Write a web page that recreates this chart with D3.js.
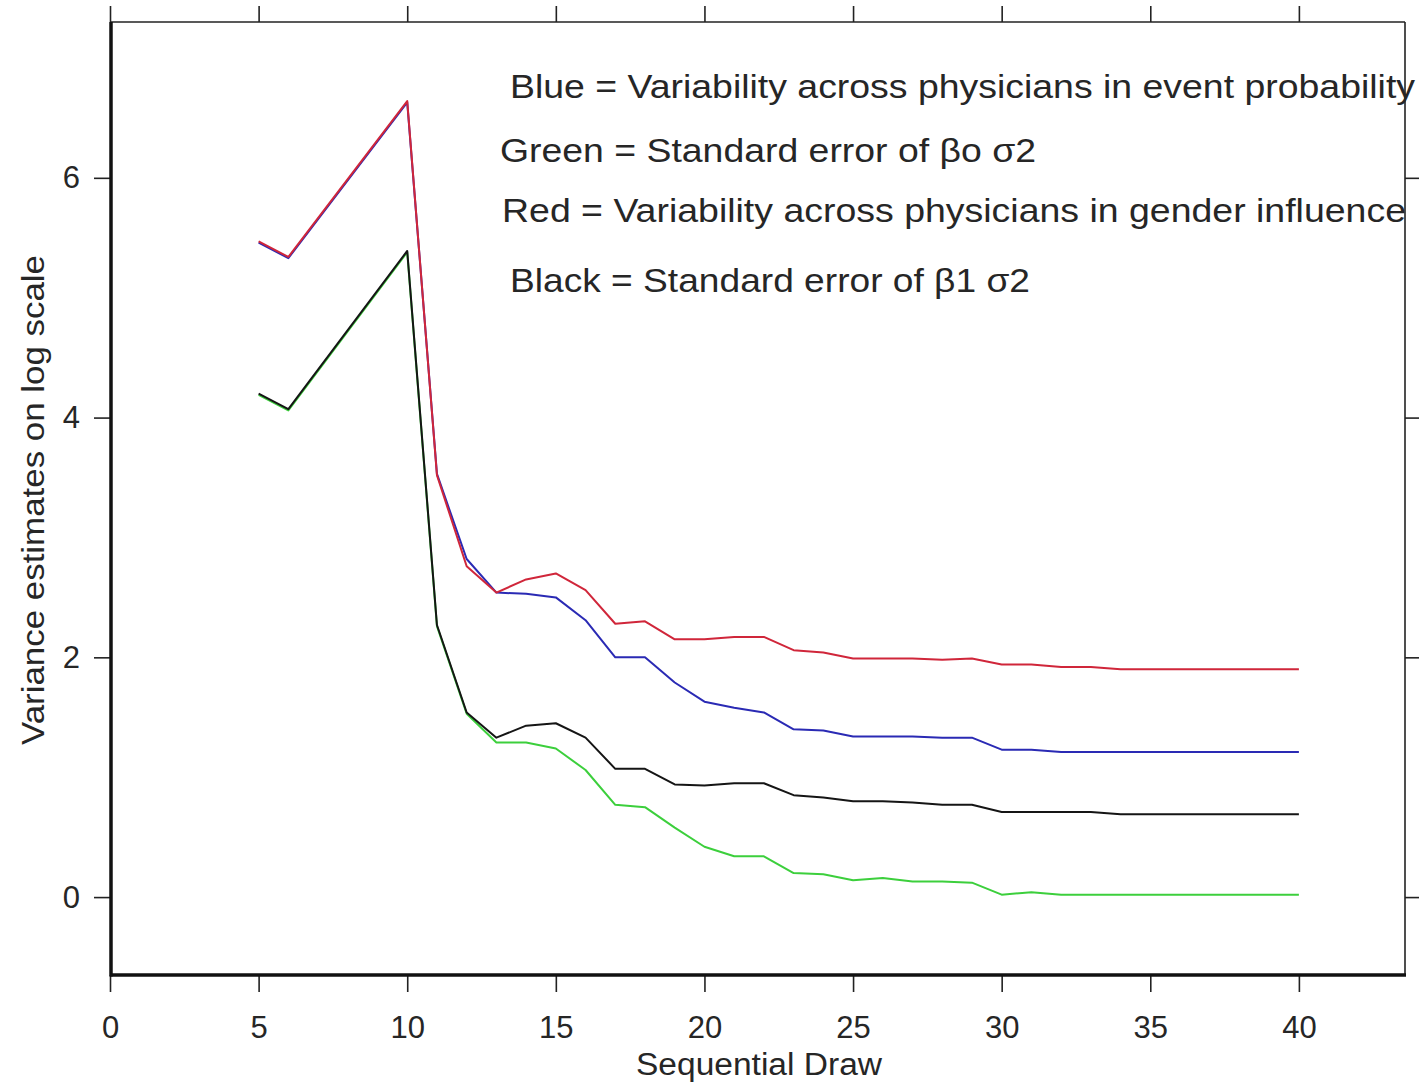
<!DOCTYPE html>
<html>
<head>
<meta charset="utf-8">
<script src="https://cdn.jsdelivr.net/npm/d3@7"></script>
<style>
  html, body { margin: 0; padding: 0; background: #fff; }
  svg { display: block; }
  text { font-family: "Liberation Sans", Arial, sans-serif; fill: #262626; }
</style>
</head>
<body>
<svg id="chart" width="1423" height="1087"></svg>
<script>
// ---- data ----
const draws = [5, 6, 10, 11, 12, 13, 14, 15, 16, 17, 18, 19, 20, 21, 22, 23, 24, 25, 26, 27, 28, 29, 30, 31, 32, 33, 34, 35, 36, 37, 38, 39, 40];
const blueValues  = [5.46, 5.33, 6.63, 3.53, 2.82, 2.54, 2.53, 2.50, 2.31, 2.00, 2.00, 1.79, 1.63, 1.58, 1.54, 1.40, 1.39, 1.34, 1.34, 1.34, 1.33, 1.33, 1.23, 1.23, 1.21, 1.21, 1.21, 1.21, 1.21, 1.21, 1.21, 1.21, 1.21];
const redValues   = [5.47, 5.34, 6.64, 3.52, 2.76, 2.54, 2.65, 2.70, 2.56, 2.28, 2.30, 2.15, 2.15, 2.17, 2.17, 2.06, 2.04, 1.99, 1.99, 1.99, 1.98, 1.99, 1.94, 1.94, 1.92, 1.92, 1.90, 1.90, 1.90, 1.90, 1.90, 1.90, 1.90];
const greenValues = [4.19, 4.06, 5.38, 2.26, 1.53, 1.29, 1.29, 1.24, 1.06, 0.77, 0.75, 0.58, 0.42, 0.34, 0.34, 0.20, 0.19, 0.14, 0.16, 0.13, 0.13, 0.12, 0.02, 0.04, 0.02, 0.02, 0.02, 0.02, 0.02, 0.02, 0.02, 0.02, 0.02];
const blackValues = [4.20, 4.07, 5.39, 2.27, 1.54, 1.33, 1.43, 1.45, 1.33, 1.07, 1.07, 0.94, 0.93, 0.95, 0.95, 0.85, 0.83, 0.80, 0.80, 0.79, 0.77, 0.77, 0.71, 0.71, 0.71, 0.71, 0.69, 0.69, 0.69, 0.69, 0.69, 0.69, 0.69];
const xTicks = [0, 5, 10, 15, 20, 25, 30, 35, 40];
const yTicks = [0, 2, 4, 6];
const legendLines = [
  "Blue = Variability across physicians in event probability",
  "Green = Standard error of \u03B2o \u03C32",
  "Red = Variability across physicians in gender influence",
  "Black = Standard error of \u03B21 \u03C32"
];
const xTitle = "Sequential Draw";
const yTitle = "Variance estimates on log scale";

// ---- layout ----
const svg = d3.select("#chart");
const L = 110, R = 1405, T = 22, B = 975;
const x = d3.scaleLinear().domain([0, 43.57]).range([L, R]);
const y = d3.scaleLinear().domain([-0.65, 7.30]).range([B, T]);

// frame
svg.append("line").attr("x1", L).attr("x2", R).attr("y1", T).attr("y2", T)
  .attr("stroke", "#222").attr("stroke-width", 1.6);
svg.append("line").attr("x1", R).attr("x2", R).attr("y1", T).attr("y2", B)
  .attr("stroke", "#222").attr("stroke-width", 1.6);

// axes
const fmt = d => String(d);
const gBottom = svg.append("g").attr("transform", `translate(0,${B})`)
  .call(d3.axisBottom(x).tickValues(xTicks).tickFormat(fmt).tickSize(17).tickSizeOuter(0).tickPadding(24));
const gTop = svg.append("g").attr("transform", `translate(0,${T})`)
  .call(d3.axisTop(x).tickValues(xTicks).tickFormat("").tickSize(16).tickSizeOuter(0));
const gLeft = svg.append("g").attr("transform", `translate(${L},0)`)
  .call(d3.axisLeft(y).tickValues(yTicks).tickFormat(fmt).tickSize(16).tickSizeOuter(0).tickPadding(14));
const gRight = svg.append("g").attr("transform", `translate(${R},0)`)
  .call(d3.axisRight(y).tickValues(yTicks).tickFormat("").tickSize(14).tickSizeOuter(0));

[gBottom, gTop, gLeft, gRight].forEach(g => {
  g.selectAll(".tick line").attr("stroke", "#222").attr("stroke-width", 1.6);
  g.selectAll(".tick text").attr("font-size", 31).attr("fill", "#262626")
    .style("font-family", "'Liberation Sans Narrow','Liberation Sans',Arial,sans-serif");
  g.select(".domain").remove();
});
// thick left and bottom axis lines
svg.append("line").attr("x1", L + 1).attr("x2", L + 1).attr("y1", T).attr("y2", B + 1.5)
  .attr("stroke", "#111").attr("stroke-width", 3.5);
svg.append("line").attr("x1", L).attr("x2", R + 1).attr("y1", B).attr("y2", B)
  .attr("stroke", "#111").attr("stroke-width", 3.5);

// lines
const pts = vals => draws.map((d, i) => [d, vals[i]]);
const line = d3.line().x(d => x(d[0])).y(d => y(d[1]));
const series = [
  { vals: blueValues, color: "#2a2ab4" },
  { vals: redValues, color: "#d0263a" },
  { vals: greenValues, color: "#3ccf3c" },
  { vals: blackValues, color: "#151515" }
];
svg.append("g").selectAll("path").data(series).join("path")
  .attr("d", s => line(pts(s.vals)))
  .attr("fill", "none")
  .attr("stroke", s => s.color)
  .attr("stroke-width", 2)
  .attr("stroke-linejoin", "round");

// legend text
const legendPos = [
  { x: 510, y: 98, w: 905 },
  { x: 500, y: 162, w: 536 },
  { x: 502, y: 222, w: 904 },
  { x: 510, y: 292, w: 520 }
];
svg.append("g").selectAll("text").data(legendLines).join("text")
  .attr("x", (d, i) => legendPos[i].x)
  .attr("y", (d, i) => legendPos[i].y)
  .attr("font-size", 33)
  .attr("textLength", (d, i) => legendPos[i].w)
  .attr("lengthAdjust", "spacingAndGlyphs")
  .text(d => d);

// axis titles
svg.append("text")
  .attr("x", 759).attr("y", 1075)
  .attr("text-anchor", "middle")
  .attr("font-size", 31)
  .attr("textLength", 246).attr("lengthAdjust", "spacingAndGlyphs")
  .text(xTitle);
svg.append("text")
  .attr("transform", "translate(44,500) rotate(-90)")
  .attr("text-anchor", "middle")
  .attr("font-size", 31)
  .attr("textLength", 490).attr("lengthAdjust", "spacingAndGlyphs")
  .text(yTitle);
</script>
</body>
</html>
